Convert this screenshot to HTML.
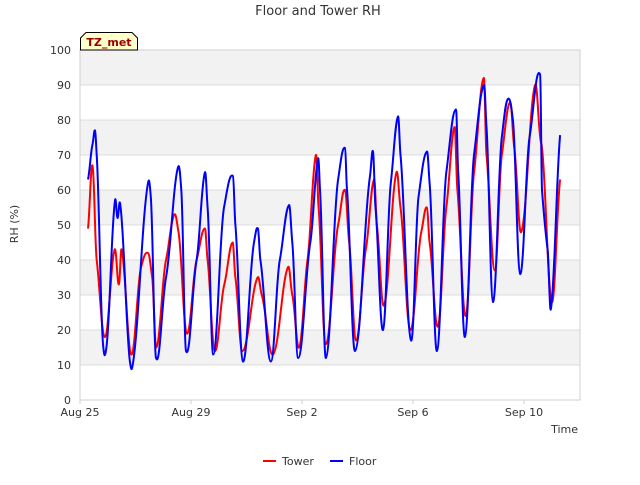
<!DOCTYPE html>
<html><head><meta charset="utf-8"><style>
body{margin:0;background:#fff;font-family:"Liberation Sans","DejaVu Sans",sans-serif;}
svg text{font-family:"DejaVu Sans","Liberation Sans",sans-serif;}
</style></head><body>
<svg id="chart" width="640" height="480" xmlns="http://www.w3.org/2000/svg">
<text x="318" y="15" text-anchor="middle" font-size="13" fill="#333">Floor and Tower RH</text>
<g id="grid"></g>
<g id="series"></g>
<g id="axes"></g>
<text x="18" y="224" transform="rotate(-90 18 224)" text-anchor="middle" font-size="11" fill="#333">RH (%)</text>
<text x="578" y="433" text-anchor="end" font-size="11" fill="#333">Time</text>
<g>
<path d="M80.5,50 L80.5,38 L86,32.5 L132,32.5 L137.5,38 L137.5,50 Z" fill="#ffffcc" stroke="#000" stroke-width="1"/>
<text x="109" y="46" text-anchor="middle" font-size="11" font-weight="bold" fill="#990000">TZ_met</text>
</g>
<g><line x1="263" y1="461" x2="276" y2="461" stroke="#f00" stroke-width="2"/><text x="282" y="465" font-size="11" fill="#333">Tower</text></g>
<g><line x1="330" y1="461" x2="343" y2="461" stroke="#00f" stroke-width="2"/><text x="349" y="465" font-size="11" fill="#333">Floor</text></g>
</svg>
<script>
const xTickLabels=["Aug 25","Aug 29","Sep 2","Sep 6","Sep 10"];
const xTickDays=[0,4,8,12,16];
const yTicks=[0,10,20,30,40,50,60,70,80,90,100];
const floorDays=[0.29,0.45,0.54,0.6,0.83,0.95,1.26,1.35,1.45,1.8,1.9,2.45,2.55,2.74,3.1,3.53,3.65,3.82,4.2,4.5,4.6,4.8,5.19,5.51,5.6,5.87,6.27,6.41,6.5,6.88,7.2,7.53,7.65,7.86,8.3,8.58,8.65,8.86,9.3,9.55,9.62,9.91,10.45,10.56,10.65,10.92,11.2,11.46,11.55,11.93,12.2,12.5,12.6,12.86,13.2,13.55,13.63,13.87,14.2,14.56,14.65,14.88,15.2,15.42,15.6,15.86,16.2,16.58,16.65,16.85,16.97,17.3];
const floorVals=[63,73,77,70,16,15,57,52,56,11,10,62,58,12,35,66.5,60,14,40,65,55,13,55,64,50,11,45,49,40,11,40,55.7,45,12,45,69,60,12,63,72,60,14,64,71,55,20,62,81,70,17,58,71,62,14,65,83,65,18,70,90,78,28,75,86,80,36,75,93,60,43,26,75.7];
const towerDays=[0.29,0.45,0.6,0.9,1.25,1.4,1.5,1.85,2.2,2.45,2.6,2.75,3.1,3.4,3.55,3.85,4.2,4.5,4.6,4.85,5.2,5.5,5.6,5.85,6.4,6.55,6.95,7.5,7.65,7.9,8.2,8.5,8.6,8.85,9.3,9.55,9.7,9.95,10.3,10.6,10.7,10.95,11.4,11.55,11.9,12.3,12.5,12.6,12.9,13.2,13.5,13.6,13.9,14.2,14.55,14.65,14.95,15.2,15.5,15.65,15.9,16.4,16.6,16.65,17.0,17.3];
const towerVals=[49,67,40,18,43,33,43,13,38,42,35,15,40,53,48,19,40,49,40,14,33,45,35,14,35,30,13,38,30,15,40,70,55,16,50,60,45,17,43,63,50,27,65,55,20,48,55,45,21,55,78,60,24,65,92,70,37,70,85,72,48,90,74,72,28,63];
const L=80,R=580,T=50,B=400;
const xs=d=>L+d*27.75;
const ys=v=>B-v*(B-T)/100;
const NS="http://www.w3.org/2000/svg";
const grid=document.getElementById('grid'),axes=document.getElementById('axes'),series=document.getElementById('series');
for(let i=1;i<10;i+=2){const r=document.createElementNS(NS,'rect');


r.setAttribute('x',L);r.setAttribute('y',ys(yTicks[i+1]));r.setAttribute('width',R-L);r.setAttribute('height',ys(yTicks[i])-ys(yTicks[i+1]));r.setAttribute('fill','#f2f2f2');grid.appendChild(r);}
yTicks.forEach(v=>{const l=document.createElementNS(NS,'line');


l.setAttribute('x1',L);l.setAttribute('x2',R);l.setAttribute('y1',ys(v));l.setAttribute('y2',ys(v));l.setAttribute('stroke','#dcdcdc');grid.appendChild(l);
const t=document.createElementNS(NS,'text');


t.setAttribute('x',L-9);t.setAttribute('y',ys(v)+4);t.setAttribute('text-anchor','end');t.setAttribute('font-size','11');t.setAttribute('fill','#333');t.textContent=v;axes.appendChild(t);});
const fr=document.createElementNS(NS,'rect');


fr.setAttribute('x',L);fr.setAttribute('y',T);fr.setAttribute('width',R-L);fr.setAttribute('height',B-T);fr.setAttribute('fill','none');fr.setAttribute('stroke','#d0d0d0');axes.appendChild(fr);
xTickDays.forEach((d,i)=>{const t=document.createElementNS(NS,'text');


t.setAttribute('x',xs(d));t.setAttribute('y',B+16);t.setAttribute('text-anchor','middle');t.setAttribute('font-size','11');t.setAttribute('fill','#333');t.textContent=xTickLabels[i];axes.appendChild(t);
const k=document.createElementNS(NS,'line');


k.setAttribute('x1',xs(d));k.setAttribute('x2',xs(d));k.setAttribute('y1',B);k.setAttribute('y2',B+4);k.setAttribute('stroke','#d0d0d0');axes.appendChild(k);});
function line(days,vals,color,name){
const pts=days.map((d,i)=>[xs(d),ys(vals[i])]);
let s='M'+pts[0][0].toFixed(1)+','+pts[0][1].toFixed(1);
const k=0.4;
for(let i=0;i<pts.length-1;i++){
const p0=pts[Math.max(0,i-1)],p1=pts[i],p2=pts[i+1],p3=pts[Math.min(pts.length-1,i+2)];
const dx=p2[0]-p1[0];
const m1=(p2[1]-p0[1])/Math.max(1e-6,p2[0]-p0[0]);
const m2=(p3[1]-p1[1])/Math.max(1e-6,p3[0]-p1[0]);
const c1x=p1[0]+dx*k,c1y=p1[1]+m1*dx*k*0.6,c2x=p2[0]-dx*k,c2y=p2[1]-m2*dx*k*0.6;
s+=' C'+c1x.toFixed(1)+','+c1y.toFixed(1)+' '+c2x.toFixed(1)+','+c2y.toFixed(1)+' '+p2[0].toFixed(1)+','+p2[1].toFixed(1);}
const p=document.createElementNS(NS,'path');


p.setAttribute('d',s);
p.setAttribute('fill','none');p.setAttribute('stroke',color);p.setAttribute('stroke-width','2');p.setAttribute('stroke-linejoin','round');series.appendChild(p);}
line(towerDays,towerVals,'#f00','tower-line');
line(floorDays,floorVals,'#00f','floor-line');
</script>
</body></html>
